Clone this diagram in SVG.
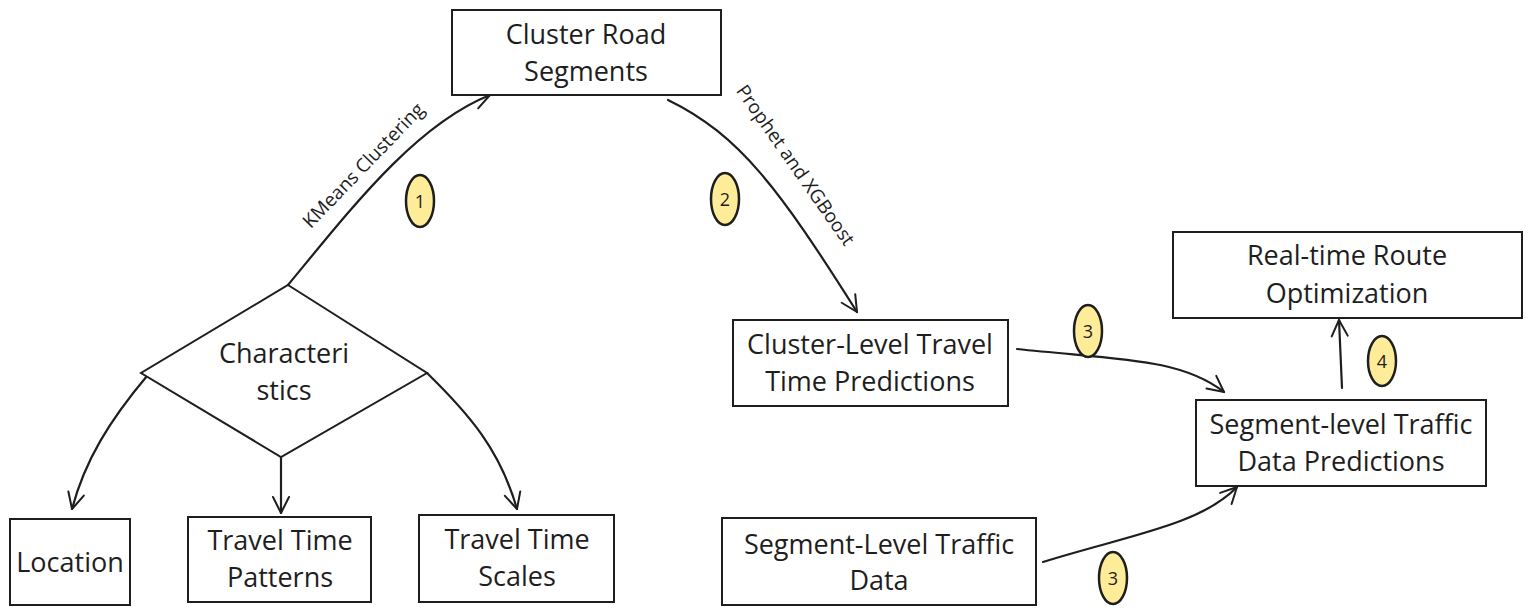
<svg xmlns="http://www.w3.org/2000/svg" width="1530" height="615" viewBox="0 0 1530 615">
<defs>
<marker id="ah" viewBox="0 0 20 20" refX="18" refY="10" markerWidth="20" markerHeight="20" markerUnits="userSpaceOnUse" orient="auto">
<path d="M2,2 L18,10 L2,18" fill="none" stroke="#1e1e1e" stroke-width="2" stroke-linecap="round" stroke-linejoin="round"/>
</marker>
<style>
.box{fill:#fff;stroke:#1e1e1e;stroke-width:2}
.t{font-family:"Open Sans","Lato",sans-serif;font-size:27px;fill:#1e1e1e;text-anchor:middle;dominant-baseline:central}
.lbl{font-family:"Open Sans","Lato",sans-serif;font-size:19px;fill:#1e1e1e;text-anchor:middle;dominant-baseline:central}
.badge{fill:#ffec99;stroke:#1e1e1e;stroke-width:2.5}
.bt{font-family:"Open Sans","Lato",sans-serif;font-size:18px;fill:#1e1e1e;text-anchor:middle;dominant-baseline:central}
.c{fill:none;stroke:#1e1e1e;stroke-width:2.2;stroke-linecap:round;marker-end:url(#ah)}
</style>
</defs>
<rect width="1530" height="615" fill="#fff"/>
<g id="connectors">
<path class="c" d="M288,285 C350,210 415,125 490,95"/>
<path class="c" d="M668,100 C740,135 780,190 857,312"/>
<path class="c" d="M147,376 C110,420 85,460 72,509"/>
<path class="c" d="M281,457 L281,513"/>
<path class="c" d="M427,373 C470,415 500,450 517,509"/>
<path class="c" d="M1017,349 C1120,360 1180,358 1224,392"/>
<path class="c" d="M1043,562 C1130,535 1200,525 1237,487"/>
<path class="c" d="M1342,388 L1339,320"/>
<text class="lbl" transform="translate(363,165) rotate(-46)">KMeans Clustering</text>
<text class="lbl" transform="translate(796,165) rotate(55)">Prophet and XGBoost</text>
</g>
<g id="cluster-road">
<rect class="box" x="452" y="10" width="269" height="85"/>
<text class="t" x="586" y="33">Cluster Road</text>
<text class="t" x="586" y="70">Segments</text>
</g>
<g id="characteristics">
<polygon class="box" points="288,285 427,373 281,457 141,373"/>
<text class="t" x="284" y="352">Characteri</text>
<text class="t" x="284" y="389">stics</text>
</g>
<g id="location">
<rect class="box" x="10" y="519" width="120" height="86"/>
<text class="t" x="70" y="561">Location</text>
</g>
<g id="tt-patterns">
<rect class="box" x="188" y="517" width="183" height="85"/>
<text class="t" x="280" y="539">Travel Time</text>
<text class="t" x="280" y="576">Patterns</text>
</g>
<g id="tt-scales">
<rect class="box" x="419" y="515" width="195" height="87"/>
<text class="t" x="517" y="538">Travel Time</text>
<text class="t" x="517" y="575">Scales</text>
</g>
<g id="cluster-level">
<rect class="box" x="733" y="320" width="275" height="86"/>
<text class="t" x="870" y="343">Cluster-Level Travel</text>
<text class="t" x="870" y="380">Time Predictions</text>
</g>
<g id="route-opt">
<rect class="box" x="1173" y="232" width="349" height="86"/>
<text class="t" x="1347" y="254">Real-time Route</text>
<text class="t" x="1347" y="292">Optimization</text>
</g>
<g id="segment-pred">
<rect class="box" x="1196" y="400" width="290" height="86"/>
<text class="t" x="1341" y="423">Segment-level Traffic</text>
<text class="t" x="1341" y="460">Data Predictions</text>
</g>
<g id="segment-data">
<rect class="box" x="722" y="518" width="314" height="87"/>
<text class="t" x="879" y="543">Segment-Level Traffic</text>
<text class="t" x="879" y="579">Data</text>
</g>
<g id="badge-1"><ellipse class="badge" cx="420" cy="201" rx="14" ry="26"/><text class="bt" x="420" y="201">1</text></g>
<g id="badge-2"><ellipse class="badge" cx="725" cy="199" rx="14" ry="26"/><text class="bt" x="725" y="199">2</text></g>
<g id="badge-3a"><ellipse class="badge" cx="1088" cy="331" rx="14" ry="26"/><text class="bt" x="1088" y="331">3</text></g>
<g id="badge-3b"><ellipse class="badge" cx="1113" cy="578" rx="14" ry="26"/><text class="bt" x="1113" y="578">3</text></g>
<g id="badge-4"><ellipse class="badge" cx="1382" cy="361" rx="14" ry="25"/><text class="bt" x="1382" y="361">4</text></g>
</svg>
